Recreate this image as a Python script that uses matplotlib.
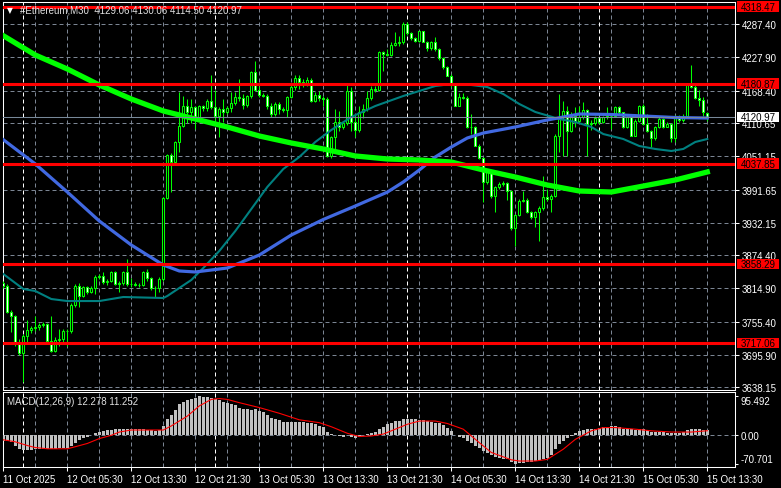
import matplotlib
matplotlib.use("Agg")
import matplotlib.pyplot as plt
from matplotlib.transforms import blended_transform_factory
from matplotlib.patches import Rectangle
import numpy as np

plt.rcParams['font.family'] = ['Liberation Sans', 'DejaVu Sans']

# ---------------- data (M30 bars, 11 Oct 21:30 .. 15 Oct 13:30) ----------------
opens = [3824.6, 3818.7, 3773.4, 3765.1, 3719.8, 3699.5, 3729.3, 3741.2, 3743.6, 3746.6,
         3749.6, 3751.4, 3721.6, 3703.7, 3723.4, 3724.6, 3739.4, 3738.2, 3785.3, 3818.7,
         3802.0, 3816.9, 3807.9, 3815.1, 3834.8, 3837.7, 3825.8, 3828.8, 3844.9, 3822.8,
         3824.6, 3844.9, 3822.8, 3822.2, 3821.6, 3821.0, 3844.9, 3833.0, 3815.1, 3816.3,
         3831.8, 3975.9, 4053.3, 4040.2, 4076.0, 4105.7, 4140.3, 4129.6, 4138.5, 4120.6,
         4140.3, 4136.7, 4150.4, 4138.5, 4123.6, 4135.5, 4129.6, 4137.9, 4146.2, 4156.4,
         4154.6, 4142.7, 4158.1, 4201.0, 4170.1, 4160.5, 4159.3, 4140.3, 4126.6, 4144.5,
         4135.5, 4134.3, 4157.5, 4174.2, 4190.9, 4183.2, 4180.2, 4187.9, 4150.4, 4160.5,
         4154.6, 4153.4, 4052.1, 4084.9, 4111.7, 4102.8, 4110.5, 4168.3, 4111.7, 4098.0,
         4129.6, 4135.5, 4154.6, 4171.3, 4170.1, 4238.0, 4233.8, 4232.0, 4250.5, 4253.5,
         4254.6, 4287.4, 4270.7, 4261.8, 4257.0, 4274.3, 4255.8, 4243.9, 4254.6, 4242.7,
         4226.1, 4210.0, 4195.1, 4178.4, 4141.5, 4156.4, 4155.2, 4102.8, 4103.9, 4070.0,
         4047.4, 4004.5, 4025.3, 3979.5, 3995.6, 4001.5, 4003.3, 3989.6, 3922.3, 3946.2,
         3971.7, 3973.5, 3950.9, 3942.0, 3950.9, 3958.1, 3978.9, 3974.7, 3980.7, 4087.9,
         4120.6, 4132.5, 4096.8, 4123.6, 4114.7, 4120.6, 4134.3, 4108.7, 4110.5, 4118.8,
         4112.9, 4120.6, 4122.4, 4123.6, 4138.5, 4129.6, 4103.9, 4120.6, 4087.9, 4114.7,
         4140.3, 4108.7, 4096.8, 4083.1, 4103.9, 4117.6, 4103.9, 4108.7, 4083.1, 4122.4,
         4116.4, 4123.6, 4178.4, 4174.2, 4154.6, 4151.6, 4129.06]
highs = [3828.8, 3822.8, 3777.0, 3767.4, 3724.6, 3733.5, 3759.1, 3748.4, 3766.3, 3753.1,
         3754.3, 3753.1, 3766.3, 3727.5, 3742.4, 3742.4, 3742.4, 3788.9, 3822.8, 3824.6,
         3819.9, 3819.9, 3818.7, 3838.9, 3840.7, 3843.7, 3831.8, 3846.7, 3846.7, 3828.8,
         3846.7, 3867.5, 3833.0, 3825.8, 3824.6, 3846.7, 3849.7, 3834.8, 3818.7, 3834.8,
         3977.7, 4055.1, 4056.9, 4079.0, 4166.5, 4159.3, 4153.4, 4153.4, 4141.5, 4142.7,
         4142.7, 4153.4, 4196.3, 4170.1, 4138.5, 4153.4, 4141.5, 4165.3, 4165.3, 4189.1,
         4162.3, 4160.5, 4204.0, 4221.3, 4176.0, 4164.1, 4162.3, 4146.2, 4147.4, 4147.4,
         4138.5, 4159.3, 4178.4, 4196.3, 4196.3, 4189.1, 4192.1, 4190.3, 4165.3, 4168.3,
         4158.1, 4156.4, 4087.9, 4135.5, 4132.5, 4114.7, 4179.0, 4174.2, 4123.6, 4141.5,
         4144.5, 4168.3, 4176.0, 4176.0, 4239.8, 4239.8, 4242.7, 4254.6, 4272.5, 4265.4,
         4290.4, 4291.6, 4272.5, 4263.6, 4275.5, 4275.5, 4257.6, 4257.6, 4263.6, 4243.9,
         4227.8, 4211.8, 4198.1, 4180.2, 4164.1, 4164.1, 4159.3, 4126.6, 4105.7, 4073.0,
         4049.1, 4028.3, 4027.1, 3998.5, 4005.7, 4007.5, 4004.5, 3991.4, 3947.9, 3974.7,
         3989.6, 3975.9, 3953.9, 3953.9, 3962.8, 4016.4, 3992.6, 3983.7, 4090.9, 4162.3,
         4150.4, 4141.5, 4129.6, 4138.5, 4141.5, 4147.4, 4135.5, 4116.4, 4122.4, 4123.6,
         4123.6, 4138.5, 4126.6, 4140.3, 4140.3, 4130.8, 4123.6, 4122.4, 4117.6, 4142.7,
         4144.5, 4126.6, 4098.6, 4105.7, 4120.6, 4119.4, 4112.9, 4110.5, 4124.8, 4124.8,
         4126.6, 4180.2, 4214.2, 4180.2, 4170.1, 4156.4, 4130.06]
lows = [3815.1, 3771.0, 3736.5, 3712.6, 3696.0, 3648.3, 3718.6, 3735.3, 3739.4, 3741.2,
        3745.4, 3719.8, 3701.9, 3700.7, 3712.6, 3718.6, 3712.6, 3735.3, 3781.1, 3781.1,
        3799.0, 3805.0, 3806.7, 3805.0, 3831.8, 3822.8, 3821.0, 3825.8, 3821.0, 3807.9,
        3821.0, 3819.9, 3816.9, 3818.7, 3816.9, 3818.7, 3828.8, 3812.7, 3799.0, 3807.9,
        3828.8, 3974.7, 3986.6, 4037.3, 4059.3, 4102.8, 4110.5, 4110.5, 4099.8, 4117.6,
        4132.5, 4132.5, 4135.5, 4110.5, 4084.9, 4111.7, 4126.6, 4129.6, 4142.7, 4150.4,
        4135.5, 4138.5, 4154.6, 4168.3, 4156.4, 4156.4, 4135.5, 4120.6, 4123.6, 4126.6,
        4130.8, 4120.6, 4154.6, 4170.1, 4171.3, 4174.2, 4177.2, 4148.6, 4148.6, 4150.4,
        4140.3, 4049.1, 4047.4, 4064.1, 4096.8, 4099.8, 4106.9, 4096.8, 4084.9, 4095.0,
        4118.8, 4132.5, 4152.2, 4166.5, 4168.3, 4204.0, 4229.6, 4229.6, 4248.7, 4248.7,
        4251.7, 4267.8, 4259.4, 4254.6, 4254.6, 4254.6, 4239.8, 4241.5, 4239.8, 4223.7,
        4207.0, 4193.9, 4174.2, 4140.3, 4140.3, 4153.4, 4101.0, 4090.9, 4068.8, 4046.2,
        3968.8, 4001.5, 3975.9, 3952.1, 3992.6, 3998.5, 3973.5, 3919.9, 3891.4, 3943.8,
        3968.8, 3949.7, 3939.0, 3924.1, 3900.3, 3955.7, 3971.7, 3950.9, 3977.7, 4058.1,
        4052.1, 4050.9, 4093.8, 4102.8, 4111.7, 4117.6, 4052.1, 4098.6, 4106.9, 4108.7,
        4110.5, 4117.6, 4099.8, 4120.6, 4126.6, 4102.2, 4101.0, 4086.7, 4086.7, 4111.7,
        4106.9, 4093.8, 4067.0, 4080.7, 4102.2, 4102.2, 4102.8, 4076.0, 4076.0, 4112.9,
        4112.9, 4120.6, 4172.5, 4153.4, 4141.5, 4122.4, 4114.50]
closes = [3819.9, 3773.4, 3765.1, 3719.8, 3699.5, 3729.3, 3741.2, 3743.6, 3746.6, 3749.6,
          3751.4, 3721.6, 3703.7, 3723.4, 3724.6, 3739.4, 3738.2, 3785.3, 3818.7, 3802.0,
          3816.9, 3807.9, 3815.1, 3834.8, 3837.7, 3825.8, 3828.8, 3844.9, 3822.8, 3824.6,
          3844.9, 3822.8, 3822.2, 3821.6, 3821.0, 3844.9, 3833.0, 3815.1, 3816.3, 3831.8,
          3975.9, 4053.3, 4040.2, 4076.0, 4105.7, 4140.3, 4129.6, 4138.5, 4120.6, 4140.3,
          4136.7, 4150.4, 4138.5, 4123.6, 4135.5, 4129.6, 4137.9, 4146.2, 4156.4, 4154.6,
          4142.7, 4158.1, 4201.0, 4170.1, 4160.5, 4159.3, 4140.3, 4126.6, 4144.5, 4135.5,
          4134.3, 4157.5, 4174.2, 4190.9, 4183.2, 4180.2, 4187.9, 4150.4, 4160.5, 4154.6,
          4153.4, 4052.1, 4084.9, 4111.7, 4102.8, 4110.5, 4168.3, 4111.7, 4098.0, 4129.6,
          4135.5, 4154.6, 4171.3, 4170.1, 4238.0, 4233.8, 4232.0, 4250.5, 4253.5, 4254.6,
          4287.4, 4270.7, 4261.8, 4257.0, 4274.3, 4255.8, 4243.9, 4254.6, 4242.7, 4226.1,
          4210.0, 4195.1, 4178.4, 4141.5, 4156.4, 4155.2, 4102.8, 4103.9, 4070.0, 4047.4,
          4004.5, 4025.3, 3979.5, 3995.6, 4001.5, 4003.3, 3989.6, 3922.3, 3946.2, 3971.7,
          3973.5, 3950.9, 3942.0, 3950.9, 3958.1, 3978.9, 3974.7, 3980.7, 4087.9, 4120.6,
          4132.5, 4096.8, 4123.6, 4114.7, 4120.6, 4134.3, 4108.7, 4110.5, 4118.8, 4112.9,
          4120.6, 4122.4, 4123.6, 4138.5, 4129.6, 4103.9, 4120.6, 4087.9, 4114.7, 4140.3,
          4108.7, 4096.8, 4083.1, 4103.9, 4117.6, 4103.9, 4108.7, 4083.1, 4122.4, 4116.4,
          4123.6, 4178.4, 4174.2, 4154.6, 4151.6, 4129.6, 4120.97]

# moving averages (bar index, price)
green_idx = [0, 8, 16, 24, 32, 40, 48, 56, 64, 72, 80, 88, 96, 104, 112, 120, 128, 136,
             144, 152, 160, 168, 176]
green_val = [4266.5, 4232.0, 4207.0, 4178.4, 4153.4, 4132.0, 4117.7, 4103.4, 4087.3, 4074.8,
             4064.1, 4051.6, 4046.2, 4044.4, 4040.8, 4026.5, 4014.0, 3999.7, 3989.0, 3987.2,
             3997.9, 4008.7, 4023.0]
blue_idx = [0, 8, 16, 24, 32, 40, 44, 48, 56, 64, 72, 80, 88, 96, 100, 104, 108, 112, 116,
            120, 128, 136, 144, 152, 160, 168, 176]
blue_val = [4080.7, 4037.3, 3987.2, 3935.4, 3892.5, 3856.8, 3846.1, 3844.3, 3851.4, 3874.6,
            3910.4, 3938.1, 3962.2, 3987.0, 4005.1, 4026.5, 4049.8, 4067.6, 4083.7, 4092.6,
            4103.4, 4115.9, 4126.6, 4125.7, 4123.0, 4120.3, 4119.4]
teal_idx = [0, 5, 8, 12, 16, 24, 30, 40, 41, 47, 50, 54, 58, 62, 66, 70, 74, 78, 82, 87, 93,
            100, 108, 112, 117, 121, 125, 129, 133, 139, 143, 147, 150, 155, 159, 163, 167,
            170, 173, 176]
teal_val = [3840.7, 3813.9, 3810.3, 3796.0, 3792.4, 3792.4, 3799.6, 3797.8, 3801.4, 3830.0,
            3851.4, 3881.8, 3917.5, 3956.8, 3996.2, 4028.3, 4049.8, 4076.6, 4098.0, 4121.2,
            4140.9, 4158.8, 4176.6, 4180.2, 4178.4, 4174.8, 4162.3, 4144.5, 4130.2, 4117.6,
            4112.3, 4103.4, 4090.8, 4081.9, 4069.4, 4064.1, 4060.5, 4064.1, 4076.6, 4081.9]

# horizontal levels
levels = [4318.47, 4180.87, 4037.85, 3858.29, 3717.06]
bid = 4120.97

# MACD(12,26,9)
macd_hist = [-14, -14, -16, -26, -33, -36, -37, -36, -34, -33, -33, -33, -34, -33, -31, -31,
             -30, -25, -18, -11, -6.5, -3, 0.5, 5, 8, 11, 13, 13, 15, 15, 16, 16, 15, 15, 15,
             15, 13, 13, 11, 13, 23, 39, 49, 62, 76, 82, 87, 90, 92, 95.49, 95, 94, 92, 90,
             87, 82, 78, 76, 74, 68, 65, 64, 62, 64, 60, 56, 49, 43, 41, 38, 33, 33, 33, 33,
             33, 33, 31, 31, 27, 23, 21, 8, 2.5, 0.5, -1.6, -3, 0.5, -3, -6.5, -3, 0.5, 2.5,
             5, 8, 15, 21, 27, 31, 34, 35, 39, 39, 39, 39, 38, 38, 35, 33, 31, 29, 25, 19, 11,
             0.5, -3, -6, -14, -18, -25, -30, -38, -44, -49, -52, -55, -57, -59, -65, -70.7,
             -69, -67, -65, -65, -64, -60, -57, -55, -49, -34, -22, -14, -6, -2, 6.5, 11, 13,
             15, 15, 16, 19, 21, 21, 23, 23, 21, 16, 15, 15, 13, 15, 16, 13, 8, 8, 8, 8, 6.5,
             5, 5, 6.5, 8, 13, 15, 16, 15, 13, 12.278]
sig_idx = [0, 3, 6, 8, 11, 16, 18, 21, 24, 27, 29, 32, 40, 42, 46, 49, 52, 54, 56, 59, 64,
           69, 74, 79, 82, 86, 89, 92, 95, 98, 101, 104, 108, 111, 115, 119, 122, 127, 129,
           133, 136, 140, 143, 147, 150, 153, 158, 162, 167, 172, 176]
sig_val = [-11, -16, -25, -30, -33, -33, -28, -20, -8, 0, 8, 13, 13, 23, 47, 72, 88, 90, 88,
           80, 68, 54, 38, 31, 21, 5, -3, -1.6, 3, 15, 27, 35, 35, 29, 15, -18, -42, -60,
           -63, -63, -59, -34, -10, 11, 19, 19, 15, 11, 8, 8, 11.252]

price_ticks = [4287.40, 4227.90, 4168.40, 4110.65, 4051.15, 3991.65, 3932.15, 3874.40,
               3814.90, 3755.40, 3695.90, 3638.15]
time_idx = [0, 16, 32, 48, 64, 80, 96, 112, 128, 144, 160, 176]
time_labels = ['11 Oct 2025', '12 Oct 05:30', '12 Oct 13:30', '12 Oct 21:30', '13 Oct 05:30',
               '13 Oct 13:30', '13 Oct 21:30', '14 Oct 05:30', '14 Oct 13:30', '14 Oct 21:30',
               '15 Oct 05:30', '15 Oct 13:30']
grid_idx = list(range(0, 177, 8))
day_starts = [5, 53, 101, 149]

# ---------------- figure ----------------
W, H = 781, 489
fig = plt.figure(figsize=(W / 100, H / 100), dpi=100, facecolor='black')


def frac(x0, y0, x1, y1):
    return [x0 / W, 1 - y1 / H, (x1 - x0) / W, (y1 - y0) / H]


ax = fig.add_axes(frac(2.5, 2.7, 735.3, 390.7))
axm = fig.add_axes(frac(2.5, 393.3, 735.3, 468.3))

GRID = '#7b8593'
DASH = (0, (4, 3))
LIME = '#00ff00'

for a in (ax, axm):
    a.set_facecolor('black')
    for s in a.spines.values():
        s.set_color('white')
        s.set_linewidth(0.75)
    a.set_xlim(-0.2, 183.0)

x = np.arange(len(closes))
O = np.array(opens); Hh = np.array(highs); L = np.array(lows); C = np.array(closes)

# main panel
ax.set_ylim(3633.97, 4327.25)
ax.set_xticks(grid_idx)
ax.tick_params(axis='x', length=0, labelbottom=False)
ax.yaxis.tick_right()
ax.set_yticks(price_ticks)
ax.set_yticklabels([f'{v:.2f}' for v in price_ticks])
ax.tick_params(axis='y', colors='white', length=3, width=0.75, pad=1.5, labelsize=7)
ax.grid(True, color=GRID, linestyle=DASH, linewidth=0.72, zorder=0.5)
ax.set_axisbelow(True)
for d in day_starts:
    ax.axvline(d, color='white', linestyle=DASH, linewidth=0.72, zorder=0.6)
    axm.axvline(d, color='white', linestyle=DASH, linewidth=0.72, zorder=0.6)

# candles
up = C >= O
ax.vlines(x, L, Hh, color=LIME, linewidth=0.75, zorder=3)
ax.bar(x, np.abs(C - O), bottom=np.minimum(O, C), width=0.5,
       color=np.where(up, 'black', 'white'), edgecolor=LIME, linewidth=0.75, zorder=3.5)

# moving averages
ax.plot(teal_idx, teal_val, color='#008080', linewidth=1.5, zorder=4)
ax.plot(blue_idx, blue_val, color='#4169e1', linewidth=2.3, zorder=4.1)
ax.plot(green_idx, green_val, color=LIME, linewidth=3.8, zorder=4.2)

# levels
for lv in levels:
    ax.axhline(lv, color='red', linewidth=2.2, zorder=6)
ax.axhline(bid, color='#778899', linewidth=0.75, zorder=6)

ppu = (4327.25 - 3633.97) / 388.0
trans = blended_transform_factory(ax.transAxes, ax.transData)
aw = 732.8
for lv, fc in [(v, 'red') for v in levels] + [(bid, 'white')]:
    ax.add_patch(Rectangle((1 + 1.7 / aw, lv - 5.2 * ppu), 42 / aw, 10.4 * ppu,
                           transform=trans, facecolor=fc, edgecolor='none',
                           clip_on=False, zorder=10))
    ax.text(1 + 5.5 / aw, lv, f'{lv:.2f}', transform=trans, color='black', fontsize=7,
            va='center', ha='left', clip_on=False, zorder=11)

ax.text(0.0068, 0.981, '\u25bc', transform=ax.transAxes, color='white', fontsize=5.5,
        va='center', ha='left', family=['DejaVu Sans'], zorder=12)
ax.text(0.0239, 0.981, '#Ethereum,M30  4129.06 4130.06 4114.50 4120.97',
        transform=ax.transAxes, color='#e0e0e0', fontsize=7, va='center', ha='left',
        zorder=12)

# MACD panel
axm.set_ylim(-78.4, 105.4)
axm.bar(x, macd_hist, width=0.65, color='#c0c0c0', zorder=3)
axm.plot(sig_idx, sig_val, color='red', linewidth=0.8, zorder=4)
axm.axhline(0, color=GRID, linestyle=DASH, linewidth=0.72, zorder=0.7)
axm.set_xticks(time_idx)
axm.set_xticklabels(time_labels, ha='left')
axm.set_xticks(grid_idx, minor=True)
axm.tick_params(axis='x', which='major', colors='white', length=3, width=0.75,
                labelsize=7, pad=2)
axm.tick_params(axis='x', which='minor', length=0)
axm.grid(True, axis='x', which='both', color=GRID, linestyle=DASH, linewidth=0.72)
axm.set_axisbelow(True)
axm.yaxis.tick_right()
axm.set_yticks([95.492, 0.0, -70.701])
axm.set_yticklabels(['95.492', '0.00', '-70.701'])
axm.tick_params(axis='y', colors='white', length=2, width=0.75, pad=1.5, labelsize=7)
labs = axm.get_yticklabels()
labs[0].set_va('top')
labs[2].set_va('bottom')
axm.text(0.0061, 0.884, 'MACD(12,26,9) 12.278 11.252', transform=axm.transAxes,
         color='#e0e0e0', fontsize=7, va='center', ha='left', zorder=12)

fig.savefig('out.png', dpi=100, facecolor='black')
